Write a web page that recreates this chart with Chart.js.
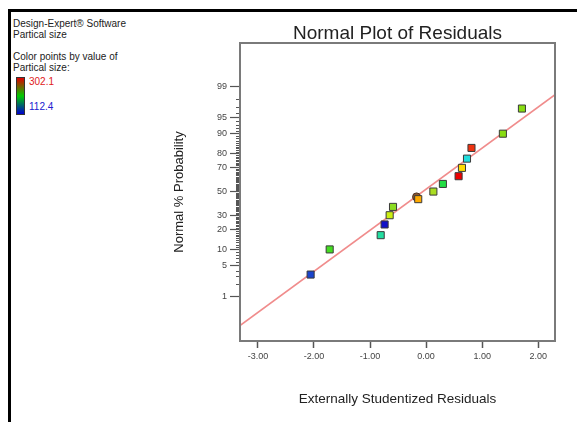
<!DOCTYPE html>
<html>
<head>
<meta charset="utf-8">
<script src="https://cdn.jsdelivr.net/npm/chart.js@4.4.1/dist/chart.umd.min.js"></script>
<style>
  body{ margin:0; background:#fff; }
  #wrap{ position:relative; width:577px; height:422px; overflow:hidden; font-family:Arial, "Liberation Sans", sans-serif; }
  #c{ position:absolute; left:0; top:0; }
  .frame{ position:absolute; left:8px; top:9px; width:600px; height:440px; border-top:3px solid #000; border-left:3px solid #000; }
  .info{ position:absolute; left:13px; font-size:10px; line-height:10.5px; color:#222; }
  .bar{ position:absolute; left:16px; top:77px; width:7px; height:36px; border:1px solid #333;
        background:linear-gradient(#e00000, #00cc00 50%, #0000d0); }
  .hi{ position:absolute; left:29px; top:76px; font-size:10px; color:#e02020; }
  .lo{ position:absolute; left:29px; top:101px; font-size:10px; color:#2020d0; }
</style>
</head>
<body>
<div id="wrap">
  <div class="frame"></div>
  <div class="info" style="top:19px">Design-Expert® Software<br>Partical size</div>
  <div class="info" style="top:52px">Color points by value of<br>Partical size:</div>
  <div class="bar"></div>
  <div class="hi">302.1</div>
  <div class="lo">112.4</div>
  <canvas id="c" width="577" height="422"></canvas>
</div>
<script>
// ---------------------------
// Data
// ---------------------------
const residuals     = [-2.06, -1.72, -0.81, -0.74, -0.65, -0.59, -0.14, 0.13, 0.30, 0.58, 0.64, 0.73, 0.81, 1.37, 1.71];
const probabilities = [3.3, 10, 16.7, 23.3, 30, 36.7, 43.3, 50, 56.7, 63.3, 70, 76.7, 83.3, 90, 96.7];
const pointColors   = ["#1a44cc", "#44dd22", "#22dda0", "#1111c8", "#ccee11", "#8cdc22", "#ffaa00", "#aadd22",
                       "#22dd44", "#ee0000", "#ffdd00", "#22dddd", "#ee3311", "#88dd11", "#88dd11"];

const markedResidual    = [-0.17];
const markedProbability = [45.3];

const fitResidual    = [-3.32, 2.30];
const fitProbability = [0.15, 98.4];

const xTickValues = [-3, -2, -1, 0, 1, 2];
const yTickLabels = [1, 5, 10, 20, 30, 50, 70, 80, 90, 95, 99];
const yMinorTicks = Array.from({length: 99}, (_, i) => i + 1);

const chartTitle = "Normal Plot of Residuals";

// ---------------------------
// Probability axis helper (inverse normal)
// ---------------------------
function probit(pct){
  const p = pct / 100;
  const a = [-3.969683028665376e+01, 2.209460984245205e+02, -2.759285104469687e+02, 1.383577518672690e+02, -3.066479806614716e+01, 2.506628277459239e+00];
  const b = [-5.447609879822406e+01, 1.615858368580409e+02, -1.556989798598866e+02, 6.680131188771972e+01, -1.328068155288572e+01];
  const c = [-7.784894002430293e-03, -3.223964580411365e-01, -2.400758277161838e+00, -2.549732539343734e+00, 4.374664141464968e+00, 2.938163982698783e+00];
  const d = [7.784695709041462e-03, 3.224671290700398e-01, 2.445134137142996e+00, 3.754408661907416e+00];
  const pl = 0.02425;
  let q, r;
  if(p < pl){
    q = Math.sqrt(-2 * Math.log(p));
    return (((((c[0]*q+c[1])*q+c[2])*q+c[3])*q+c[4])*q+c[5]) / ((((d[0]*q+d[1])*q+d[2])*q+d[3])*q+1);
  }
  if(p <= 1 - pl){
    q = p - 0.5; r = q * q;
    return (((((a[0]*r+a[1])*r+a[2])*r+a[3])*r+a[4])*r+a[5])*q / (((((b[0]*r+b[1])*r+b[2])*r+b[3])*r+b[4])*r+1);
  }
  q = Math.sqrt(-2 * Math.log(1 - p));
  return -(((((c[0]*q+c[1])*q+c[2])*q+c[3])*q+c[4])*q+c[5]) / ((((d[0]*q+d[1])*q+d[2])*q+d[3])*q+1);
}

const toPoints = (xs, ps) => xs.map((x, i) => ({x: x, y: probit(ps[i])}));

// ---------------------------
// Plot box, minor ticks, title over the plot box
// ---------------------------
const boxPlugin = {
  id: "box",
  afterDraw(chart){
    const {ctx, chartArea: a, scales} = chart;
    ctx.save();
    ctx.strokeStyle = "#555";
    ctx.lineWidth = 1;
    ctx.beginPath();
    for(const p of yMinorTicks){
      if(yTickLabels.includes(p)) continue;
      const y = Math.round(scales.y.getPixelForValue(probit(p))) + 0.5;
      ctx.moveTo(a.left - 4, y);
      ctx.lineTo(a.left, y);
    }
    ctx.stroke();
    ctx.strokeStyle = "#7a7a7a";
    ctx.lineWidth = 2;
    ctx.strokeRect(a.left, a.top, a.right - a.left, a.bottom - a.top);

    ctx.fillStyle = "#222";
    ctx.font = "19px Arial, 'Liberation Sans'";
    ctx.textAlign = "center";
    ctx.textBaseline = "alphabetic";
    ctx.fillText(chartTitle, (a.left + a.right) / 2, a.top - 4);
    ctx.restore();
  }
};

const tickFont = {family: "Arial, 'Liberation Sans'", size: 9};

new Chart(document.getElementById("c"), {
  type: "scatter",
  data: {
    datasets: [
      {
        data: toPoints(residuals, probabilities),
        pointStyle: "rect",
        pointRadius: 5,
        backgroundColor: pointColors,
        borderColor: "#3a3a3a",
        borderWidth: 1,
        order: 1
      },
      {
        data: toPoints(markedResidual, markedProbability),
        pointStyle: "circle",
        pointRadius: 4,
        backgroundColor: "#8a5530",
        borderColor: "#4a3020",
        borderWidth: 1,
        order: 2
      },
      {
        data: toPoints(fitResidual, fitProbability),
        showLine: true,
        pointRadius: 0,
        borderColor: "#f08c8c",
        borderWidth: 1.5,
        order: 3
      }
    ]
  },
  options: {
    responsive: false,
    animation: false,
    layout: { padding: {left: 170, right: 22, top: 43, bottom: 11} },
    plugins: {
      legend: { display: false },
      tooltip: { enabled: false },
      title: { display: false }
    },
    scales: {
      x: {
        type: "linear",
        min: -3.32,
        max: 2.30,
        afterBuildTicks: s => { s.ticks = xTickValues.map(v => ({value: v})); },
        afterFit: s => { s.height = 70; },
        grid: { drawOnChartArea: false, tickLength: 7, tickWidth: 1.5, tickColor: "#555" },
        border: { display: false },
        ticks: { font: tickFont, color: "#444", padding: 3, maxRotation: 0, autoSkip: false,
                 callback: v => v.toFixed(2) },
        title: { display: true, text: "Externally Studentized Residuals", color: "#222",
                 font: {family: "Arial, 'Liberation Sans'", size: 13.5}, padding: {top: 0, bottom: 4} }
      },
      y: {
        type: "linear",
        min: -3.31,
        max: 3.29,
        afterBuildTicks: s => { s.ticks = yTickLabels.map(p => ({value: probit(p)})); },
        afterFit: s => { s.width = 70; },
        grid: { drawOnChartArea: false, tickLength: 10, tickWidth: 1.2, tickColor: "#555" },
        border: { display: false },
        ticks: { font: tickFont, color: "#444", padding: 3, autoSkip: false,
                 callback: (v, i) => String(yTickLabels[i]) },
        title: { display: true, text: "Normal % Probability", color: "#222",
                 font: {family: "Arial, 'Liberation Sans'", size: 13}, padding: {top: 2, bottom: 0} }
      }
    }
  },
  plugins: [boxPlugin]
});
</script>
</body>
</html>
